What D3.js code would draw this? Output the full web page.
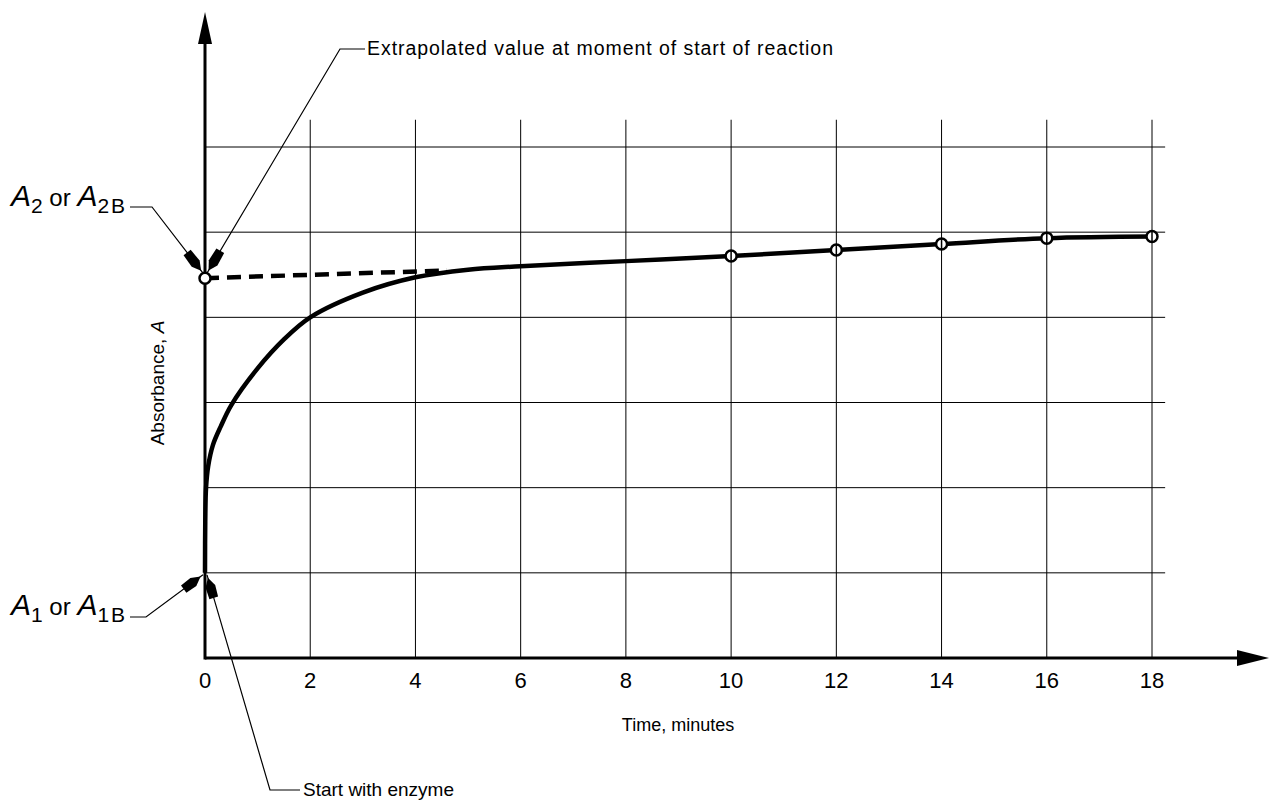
<!DOCTYPE html>
<html>
<head>
<meta charset="utf-8">
<script src="https://cdn.jsdelivr.net/npm/d3@7"></script>
<style>
  body { margin: 0; background: #fff; }
  svg { display: block; }
  text { font-family: "Liberation Sans", Arial, sans-serif; fill: #000; }
</style>
</head>
<body>
<svg id="chart" width="1269" height="803"></svg>
<script>
// data
const xTickValues = [0, 2, 4, 6, 8, 10, 12, 14, 16, 18];
const yGridValues = [1, 2, 3, 4, 5, 6];
const curveTime = [0, 0.005, 0.02, 0.06, 0.15, 0.3, 0.5, 1, 1.5, 2, 3, 4, 5, 6, 8, 10, 12, 14, 16, 18];
const curveAbs  = [1.0, 1.6, 2.0, 2.25, 2.5, 2.72, 2.97, 3.4, 3.74, 4.0, 4.29, 4.47, 4.56, 4.6, 4.66, 4.72, 4.79, 4.86, 4.93, 4.95];
const pointTime = [10, 12, 14, 16, 18];
const pointAbs  = [4.72, 4.79, 4.86, 4.93, 4.95];
const extrapTime = [0, 4.6];
const extrapAbs  = [4.46, 4.55];
const xTitle = "Time, minutes";
const yTitle = "Absorbance, ";

const svg = d3.select("#chart");

const x = d3.scaleLinear().domain([0, 18]).range([205, 1152]);
const y = d3.scaleLinear().domain([0, 6]).range([658, 147]);

// grid
const grid = svg.append("g").attr("stroke", "#000").attr("stroke-width", 1);
grid.selectAll("line.v").data(xTickValues.slice(1)).join("line")
  .attr("x1", d => x(d)).attr("x2", d => x(d))
  .attr("y1", y(0)).attr("y2", y(6.32));
grid.selectAll("line.h").data(yGridValues).join("line")
  .attr("x1", x(0)).attr("x2", x(18.25))
  .attr("y1", d => y(d)).attr("y2", d => y(d));

// axes
svg.append("line").attr("x1", x(0)).attr("x2", 1240).attr("y1", y(0)).attr("y2", y(0))
  .attr("stroke", "#000").attr("stroke-width", 3);
svg.append("line").attr("x1", x(0)).attr("x2", x(0)).attr("y1", y(0) + 1.5).attr("y2", 40)
  .attr("stroke", "#000").attr("stroke-width", 3);
svg.append("path").attr("d", `M${x(0)},12 L${x(0) - 7},44 L${x(0) + 7},44 Z`).attr("fill", "#000");
svg.append("path").attr("d", `M1269,${y(0)} L1237,${y(0) - 8} L1237,${y(0) + 8} Z`).attr("fill", "#000");

// tick labels
svg.append("g").selectAll("text").data(xTickValues).join("text")
  .attr("x", d => x(d)).attr("y", 688)
  .attr("text-anchor", "middle").attr("font-size", 22)
  .text(d => d);

svg.append("text").attr("x", 678).attr("y", 731).attr("text-anchor", "middle")
  .attr("font-size", 18).text(xTitle);

const yt = svg.append("text").attr("transform", `translate(164,383) rotate(-90)`)
  .attr("text-anchor", "middle").attr("font-size", 19);
yt.append("tspan").text(yTitle);
yt.append("tspan").attr("font-style", "italic").text("A");

// extrapolated dashed line
const line = d3.line().x(d => x(d[0])).y(d => y(d[1]));
svg.append("path").datum(d3.zip(extrapTime, extrapAbs))
  .attr("d", line).attr("fill", "none").attr("stroke", "#000")
  .attr("stroke-width", 4.5).attr("stroke-dasharray", "14,8");

// reaction curve
svg.append("path").datum(d3.zip(curveTime, curveAbs))
  .attr("d", line.curve(d3.curveCatmullRom.alpha(0.5)))
  .attr("fill", "none").attr("stroke", "#000").attr("stroke-width", 4.5)
  .attr("stroke-linejoin", "round");

// measured points
const pts = svg.append("g").selectAll("g").data(d3.zip(pointTime, pointAbs)).join("g")
  .attr("transform", d => `translate(${x(d[0])},${y(d[1])})`);
pts.append("circle").attr("r", 5.5).attr("fill", "#fff").attr("stroke", "#000").attr("stroke-width", 2.5);
pts.append("line").attr("y1", -5).attr("y2", 5).attr("stroke", "#000").attr("stroke-width", 1.5);

// open circle at extrapolated start
svg.append("circle").attr("cx", x(0)).attr("cy", y(extrapAbs[0])).attr("r", 5.5)
  .attr("fill", "#fff").attr("stroke", "#000").attr("stroke-width", 2.5);

// leader lines with thick arrowheads
function leader(points, len) {
  svg.append("path").attr("d", d3.line()(points))
    .attr("fill", "none").attr("stroke", "#000").attr("stroke-width", 1.2);
  const [tx, ty] = points[points.length - 1];
  const [fx, fy] = points[points.length - 2];
  const a = Math.atan2(fy - ty, fx - tx);
  const ux = Math.cos(a), uy = Math.sin(a), px = -uy, py = ux;
  const p = (l, w) => [tx + ux * l + px * w, ty + uy * l + py * w];
  const head = [[tx + ux * 3, ty + uy * 3], p(12, 5), p(len, 4.5), p(len, -4.5), p(12, -5)];
  svg.append("path").attr("d", d3.line()(head) + "Z").attr("fill", "#000");
}

const yA2 = y(extrapAbs[0]), yA1 = y(curveAbs[0]);
leader([[365, 49], [340, 49], [x(0) + 2, yA2 - 5]], 26);
leader([[130, 207], [152, 207], [x(0) - 2, yA2 - 5]], 26);
leader([[130, 617], [146, 617], [x(0) - 2, yA1 + 2]], 24);
leader([[300, 790], [270, 790], [x(0) + 2, yA1 + 2]], 24);

// annotation texts
svg.append("text").attr("x", 367).attr("y", 55).attr("font-size", 19.5)
  .attr("textLength", 466).attr("lengthAdjust", "spacing")
  .text("Extrapolated value at moment of start of reaction");
svg.append("text").attr("x", 303).attr("y", 796).attr("font-size", 19)
  .text("Start with enzyme");

function aLabel(xp, yp, sub) {
  const t = svg.append("text").attr("x", xp).attr("y", yp).attr("font-size", 30);
  t.append("tspan").attr("font-style", "italic").text("A");
  t.append("tspan").attr("dy", 7).attr("font-size", 21).text(sub);
  t.append("tspan").attr("dy", -7).attr("font-size", 24).text(" or ");
  t.append("tspan").attr("font-style", "italic").text("A");
  t.append("tspan").attr("dy", 7).attr("font-size", 21).text(sub);
  t.append("tspan").attr("dx", 2).attr("font-size", 21).text("B");
}
aLabel(11, 206, "2");
aLabel(11, 615, "1");
</script>
</body>
</html>
